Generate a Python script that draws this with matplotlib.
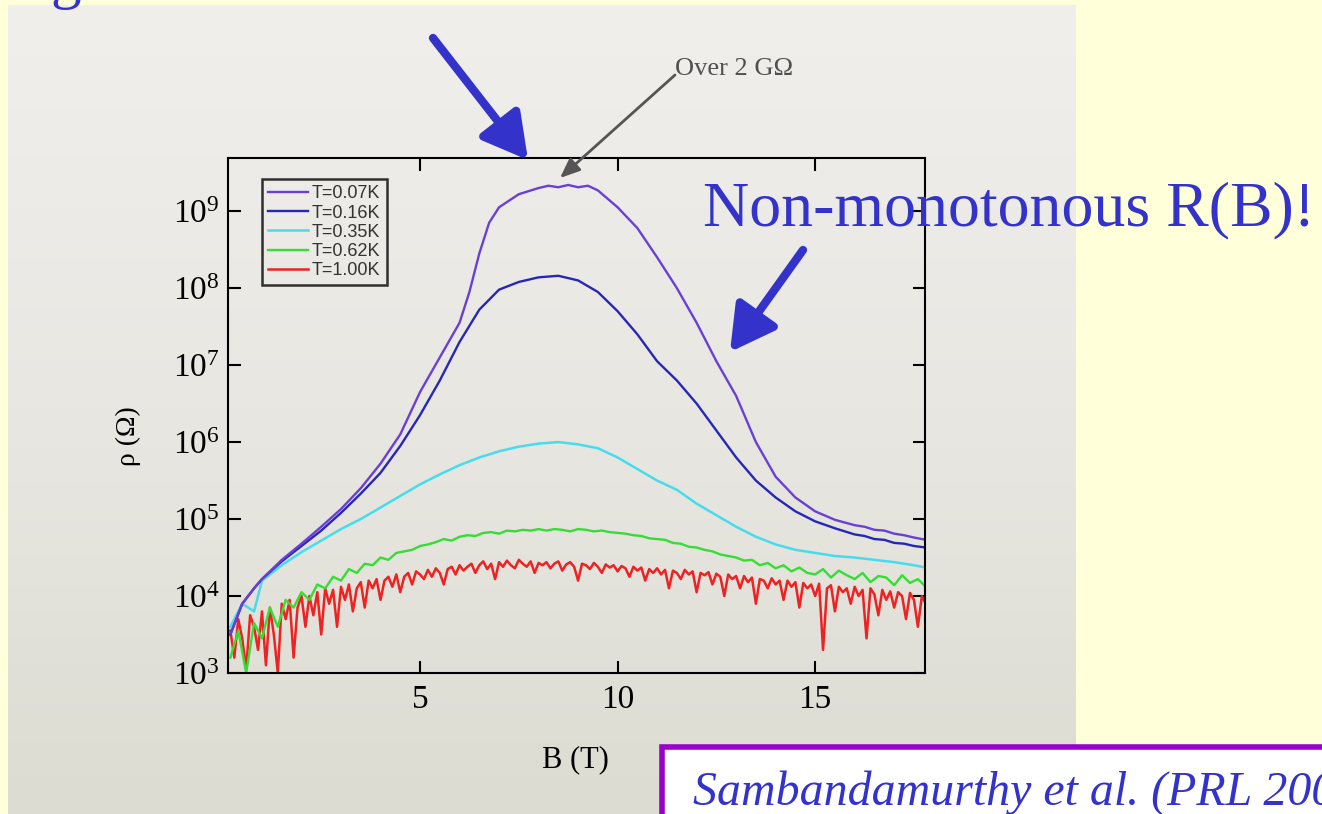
import numpy as np
import matplotlib
matplotlib.use('Agg')
import matplotlib.pyplot as plt
from matplotlib.patches import Rectangle
from matplotlib.colors import LinearSegmentedColormap

# log10(rho / Ohm), B in tesla
B_007 = [0.2, 0.5, 0.8, 1.0, 1.5, 2.0, 2.5, 3.0, 3.5, 4.0, 4.5, 5.0, 5.5, 6.0, 6.25, 6.5, 6.75,
         7.0, 7.5, 8.0, 8.25, 8.5, 8.75, 9.0, 9.25, 9.5, 10.0, 10.5, 11.0, 11.5, 12.0, 12.5,
         13.0, 13.5, 14.0, 14.5, 15.0, 15.5, 16.0, 16.25, 16.5, 16.75, 17.0, 17.25, 17.5, 17.8]
log_007 = [3.5, 3.9, 4.1, 4.22, 4.47, 4.68, 4.9, 5.13, 5.4, 5.72, 6.1, 6.65, 7.1, 7.55, 7.95, 8.45, 8.85,
           9.05, 9.22, 9.3, 9.33, 9.31, 9.34, 9.31, 9.33, 9.27, 9.05, 8.78, 8.4, 8.0, 7.55, 7.05,
           6.6, 6.0, 5.55, 5.28, 5.1, 4.99, 4.92, 4.9, 4.86, 4.85, 4.81, 4.79, 4.76, 4.73]

B_016 = [0.2, 0.5, 0.8, 1.0, 1.5, 2.0, 2.5, 3.0, 3.5, 4.0, 4.5, 5.0, 5.5, 6.0, 6.5, 7.0, 7.5,
         8.0, 8.5, 9.0, 9.5, 10.0, 10.5, 11.0, 11.5, 12.0, 12.5, 13.0, 13.5, 14.0, 14.5, 15.0,
         15.5, 16.0, 16.25, 16.5, 16.75, 17.0, 17.25, 17.5, 17.8]
log_016 = [3.5, 3.9, 4.1, 4.22, 4.45, 4.65, 4.85, 5.08, 5.33, 5.6, 5.95, 6.35, 6.8, 7.3, 7.72, 7.98, 8.08,
           8.14, 8.16, 8.1, 7.95, 7.7, 7.4, 7.05, 6.8, 6.5, 6.15, 5.8, 5.5, 5.28, 5.1, 4.97,
           4.88, 4.8, 4.78, 4.74, 4.73, 4.69, 4.68, 4.65, 4.63]

B_035 = [0.2, 0.5, 0.8, 1.0, 1.5, 2.0, 2.5, 3.0, 3.5, 4.0, 4.5, 5.0, 5.5, 6.0, 6.5, 7.0, 7.5,
         8.0, 8.5, 9.0, 9.5, 10.0, 10.5, 11.0, 11.5, 12.0, 12.5, 13.0, 13.5, 14.0, 14.5, 15.0,
         15.5, 16.0, 16.5, 17.0, 17.5, 17.8]
log_035 = [3.6, 3.9, 3.8, 4.2, 4.4, 4.57, 4.72, 4.87, 5.0, 5.15, 5.3, 5.45, 5.58, 5.7, 5.8, 5.88, 5.94,
           5.98, 6.0, 5.97, 5.92, 5.8, 5.65, 5.5, 5.38, 5.2, 5.05, 4.9, 4.77, 4.67, 4.6, 4.56,
           4.52, 4.5, 4.47, 4.44, 4.4, 4.37]

# noisy curves, evenly sampled from 0.2 to 17.8 T
log_062 = [3.2, 3.55, 3.0, 3.65, 3.45, 3.85, 3.6, 3.95, 3.85, 4.05,
           3.95, 4.15, 4.1, 4.25, 4.2, 4.35, 4.3, 4.42, 4.4, 4.5,
           4.47, 4.56, 4.58, 4.6, 4.65, 4.67, 4.7, 4.74, 4.72, 4.77,
           4.79, 4.78, 4.82, 4.83, 4.81, 4.85, 4.84, 4.86, 4.85, 4.87,
           4.85, 4.87, 4.86, 4.84, 4.87, 4.86, 4.84, 4.85, 4.83, 4.82,
           4.81, 4.79, 4.78, 4.75, 4.74, 4.73, 4.69, 4.68, 4.64, 4.63,
           4.6, 4.58, 4.54, 4.52, 4.5, 4.46, 4.47, 4.4, 4.43, 4.36,
           4.4, 4.32, 4.37, 4.3, 4.28, 4.35, 4.24, 4.33, 4.27, 4.22,
           4.3, 4.18, 4.26, 4.24, 4.14, 4.27, 4.17, 4.22, 4.12]
log_100 = [3.55, 3.2, 3.7, 3.45, 3.05, 3.75, 3.6, 3.3, 3.8, 3.1,
           3.85, 3.5, 3.0, 3.9, 3.7, 3.95, 3.2, 3.85, 4.0, 3.6,
           4.0, 3.75, 4.05, 3.5, 4.1, 3.9, 4.08, 3.6, 4.12, 3.95,
           4.15, 3.8, 4.1, 4.18, 3.85, 4.2, 4.1, 4.22, 3.95, 4.2,
           4.25, 4.12, 4.28, 4.05, 4.25, 4.3, 4.15, 4.32, 4.28, 4.22,
           4.34, 4.25, 4.36, 4.3, 4.15, 4.35, 4.38, 4.28, 4.4, 4.33,
           4.38, 4.42, 4.3, 4.4, 4.45, 4.35, 4.42, 4.22, 4.44, 4.38,
           4.46, 4.4, 4.36, 4.47, 4.42, 4.38, 4.45, 4.3, 4.43, 4.4,
           4.44, 4.36, 4.42, 4.45, 4.33, 4.41, 4.44, 4.38, 4.2, 4.42,
           4.4, 4.35, 4.43, 4.38, 4.3, 4.41, 4.37, 4.4, 4.32, 4.39,
           4.36, 4.25, 4.38, 4.33, 4.37, 4.2, 4.35, 4.3, 4.36, 4.28,
           4.34, 4.1, 4.33, 4.3, 4.22, 4.34, 4.28, 4.32, 4.05, 4.3,
           4.27, 4.31, 4.15, 4.29, 4.25, 4.0, 4.28, 4.22, 4.26, 4.1,
           4.26, 4.18, 4.24, 3.9, 4.22, 4.2, 4.1, 4.23, 4.15, 4.2,
           3.95, 4.2, 4.12, 4.18, 3.85, 4.17, 4.1, 4.15, 4.0, 4.16,
           3.3, 4.1, 4.14, 3.8, 4.12, 4.05, 4.1, 3.9, 4.12, 4.0,
           4.08, 3.45, 4.1, 4.02, 3.75, 4.08, 3.95, 4.06, 3.85, 4.05,
           4.0, 3.7, 4.04, 3.95, 3.6, 4.0, 3.9]
B_062 = np.linspace(0.2, 17.8, len(log_062))
B_100 = np.linspace(0.2, 17.8, len(log_100))

labels = ['T=0.07K', 'T=0.16K', 'T=0.35K', 'T=0.62K', 'T=1.00K']
colors = ['#6A3FD8', '#2626B8', '#45DDEE', '#35DD35', '#EE2222']

plt.rcParams['font.family'] = ['Liberation Serif', 'DejaVu Serif']
plt.rcParams['mathtext.fontset'] = 'custom'
plt.rcParams['mathtext.rm'] = 'Liberation Serif'
plt.rcParams['mathtext.it'] = 'Liberation Serif:italic'

W, H = 1322, 814
fig = plt.figure(figsize=(W / 100, H / 100), dpi=100)
fig.patch.set_facecolor('#FFFFDA')

# grey scanned-figure panel
bg = fig.add_axes([8 / W, 0, (1076 - 8) / W, 1 - 5 / H])
grad = np.linspace(0, 1, 256).reshape(-1, 1)
cmap = LinearSegmentedColormap.from_list('panel', ['#F1EFEC', '#E9E7E2', '#DCDCD2'])
bg.imshow(grad, aspect='auto', cmap=cmap, extent=[0, 1, 0, 1])
bg.axis('off')

ax = fig.add_axes([228 / W, 1 - 673 / H, (925 - 228) / W, (673 - 158) / H])
ax.set_facecolor('none')

series = [(B_007, log_007), (B_016, log_016), (B_035, log_035), (B_062, log_062), (B_100, log_100)]
widths = [1.7, 1.7, 1.8, 1.7, 1.8]
lines = [None] * 5
# hottest curve drawn first, coldest on top
for i in range(4, -1, -1):
    b, lg = series[i]
    lines[i], = ax.plot(b, 10 ** np.array(lg), color=colors[i], lw=widths[i], label=labels[i])

ax.set_yscale('log')
ax.set_xlim(0.14, 17.78)
ax.set_ylim(1e3, 4.9e9)
ax.set_xticks([5, 10, 15])
ax.set_yticks([1e3, 1e4, 1e5, 1e6, 1e7, 1e8, 1e9])
ax.minorticks_off()
ax.tick_params(direction='in', length=9, width=1.5, top=True, right=True, labelsize=24)
ax.tick_params(axis='y', pad=6)
ax.tick_params(axis='x', pad=8)
for s in ax.spines.values():
    s.set_linewidth(1.5)

ax.set_xlabel('B (T)', fontsize=22)
ax.set_ylabel('ρ (Ω)', fontsize=20)
ax.xaxis.set_label_coords(0.498, -0.14)
ax.yaxis.set_label_coords(-0.125, 0.46)

leg = ax.legend(handles=lines, loc='upper left', bbox_to_anchor=(0.049, 0.959), borderaxespad=0,
                fancybox=False, edgecolor='black', handlelength=2.2,
                labelspacing=0.12, handletextpad=0.2, borderpad=0.35,
                prop={'family': 'Liberation Sans', 'size': 13})
leg.get_frame().set_facecolor('none')
leg.get_frame().set_linewidth(1.8)
for t in leg.get_texts():
    t.set_color('#333333')

# annotations
ax.annotate('', xy=(560, H - 178), xytext=(675, H - 75), xycoords='figure pixels',
            textcoords='figure pixels', annotation_clip=False,
            arrowprops=dict(arrowstyle='-|>,head_length=0.6,head_width=0.25', lw=2,
                            color='#555555', shrinkA=0, shrinkB=0, mutation_scale=20))
fig.text(675 / W, 1 - 75 / H, 'Over 2 GΩ', fontsize=19, color='#505050', va='baseline')

for tail, tip in [((433, H - 38), (528, H - 160)), ((803, H - 250), (730, H - 352))]:
    ax.annotate('', xy=tip, xytext=tail, xycoords='figure pixels', textcoords='figure pixels',
                annotation_clip=False,
                arrowprops=dict(arrowstyle='-|>,head_length=0.9,head_width=0.5', lw=6,
                                color='#3333CC', shrinkA=0, shrinkB=0, mutation_scale=30))

fig.text(703 / W, 1 - 225 / H, 'Non-monotonous R(B)!', fontsize=46, color='#3333CC',
         va='baseline', zorder=10)
fig.text(50 / W, 1 + 3 / H, 'g', fontsize=44, color='#3333CC', va='baseline', zorder=10)

# citation box, running off the slide
fig.patches.append(Rectangle((662 / W, -0.05), 0.6, 0.05 + (H - 747) / H, transform=fig.transFigure,
                             facecolor='white', edgecolor='#9900CC', lw=4, zorder=5))
fig.text(693 / W, 1 - 805 / H, 'Sambandamurthy et al. (PRL 2004)', fontsize=34.5, style='italic',
         color='#3333CC', va='baseline', zorder=10)

fig.savefig('out.png', dpi=100, facecolor=fig.get_facecolor())
